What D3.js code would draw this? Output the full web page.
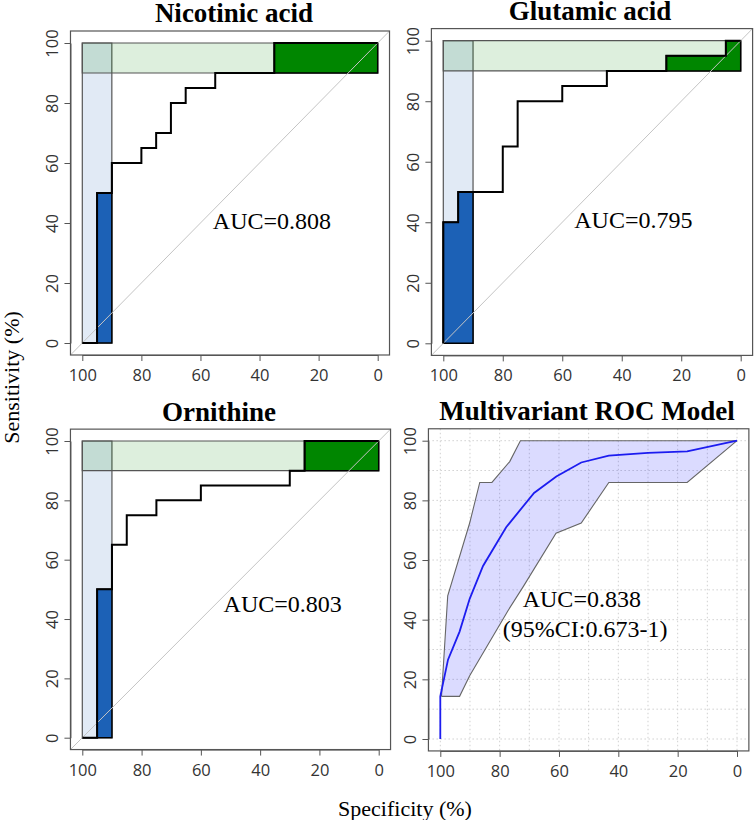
<!DOCTYPE html>
<html>
<head>
<meta charset="utf-8">
<script src="https://cdn.jsdelivr.net/npm/d3@7"></script>
<style>
  html, body { margin: 0; padding: 0; background: #fff; }
  svg { display: block; }
</style>
</head>
<body>
<svg id="chart" width="754" height="820"></svg>
<script>
// ---------------- data ----------------
const specTicks = [100, 80, 60, 40, 20, 0];
const sensTicks = [0, 20, 40, 60, 80, 100];
const gridTicks = [0, 10, 20, 30, 40, 50, 60, 70, 80, 90, 100];

const titles = ["Nicotinic acid", "Glutamic acid", "Ornithine", "Multivariant ROC Model"];
const aucLabels = ["AUC=0.808", "AUC=0.795", "AUC=0.803", "AUC=0.838"];
const ciLabel = "(95%CI:0.673-1)";

// ROC coordinates (specificity %, sensitivity %)
const nicotinicSpec = [100, 95, 95, 90, 90, 80, 80, 75, 75, 70, 70, 65, 65, 55, 55, 35, 35, 0];
const nicotinicSens = [0, 0, 50, 50, 60, 60, 65, 65, 70, 70, 80, 80, 85, 85, 90, 90, 100, 100];

const glutamicSpec = [100, 100, 95, 95, 80, 80, 75, 75, 60, 60, 45, 45, 25, 25, 5, 5, 0];
const glutamicSens = [0, 40, 40, 50, 50, 65, 65, 80, 80, 85, 85, 90, 90, 95, 95, 100, 100];

const ornithineSpec = [100, 95, 95, 90, 90, 85, 85, 75, 75, 60, 60, 30, 30, 25, 25, 0];
const ornithineSens = [0, 0, 50, 50, 65, 65, 75, 75, 80, 80, 85, 85, 90, 90, 100, 100];

// partial AUC ranges
const spRange = [100, 90];   // specificity focus
const seRange = [90, 100];   // sensitivity focus

// multivariate model curve and its 95% CI band
const multiSpec = [100, 100, 97.4, 93.5, 90.1, 85.6, 77.8, 68.4, 60.9, 52.5, 43.2, 30, 16.8, 0];
const multiSens = [0, 14.3, 26.6, 36, 47, 58, 71, 82.5, 88, 92.7, 95, 95.9, 96.4, 100];

const ciUpperSpec = [99.6, 97.5, 90.1, 86.7, 82.6, 76.6, 73, 0];
const ciUpperSens = [14.3, 48, 72.4, 86, 86, 93, 100, 100];
const ciLowerSpec = [99.6, 93.5, 90.1, 84.5, 77.2, 72.1, 61, 52.5, 43.2, 16.8, 0];
const ciLowerSens = [14.3, 14.3, 21.2, 30.7, 43, 51, 69, 72.4, 86, 86, 100];

// ---------------- layout ----------------
const layout = [
  { xr: [82.3, 377.7], yr: [343, 43],     titleX: 234, titleY: 21.5, aucAt: [35.8, 38] },
  { xr: [443.3, 740.7], yr: [343.3, 40.7], titleX: 590, titleY: 20,   aucAt: [36.1, 38.1] },
  { xr: [82.3, 378.7], yr: [737.7, 441],  titleX: 219, titleY: 420.7, aucAt: [32.4, 42.5] },
  { xr: [440.3, 737], yr: [739, 440.7],   titleX: 587, titleY: 420,  aucAt: [52.3, 44.3], ciAt: [51.2, 34.3] }
];

const SERIF = "'Liberation Serif', 'Times New Roman', serif";
const SANS = "'Open Sans', 'Noto Sans', sans-serif";

const svg = d3.select("#chart");

function makeScales(cfg) {
  const x = d3.scaleLinear().domain([100, 0]).range(cfg.xr);
  const y = d3.scaleLinear().domain([0, 100]).range(cfg.yr);
  const dx = (cfg.xr[1] - cfg.xr[0]) * 0.04;
  const dy = (cfg.yr[0] - cfg.yr[1]) * 0.04;
  const box = { l: cfg.xr[0] - dx, r: cfg.xr[1] + dx, t: cfg.yr[1] - dy, b: cfg.yr[0] + dy };
  return { x, y, box };
}

function drawFrame(g, s, cfg, i) {
  const { x, y, box } = s;
  const xa = g.append("g").attr("transform", `translate(0,${box.b})`)
    .call(d3.axisBottom(x).tickValues(specTicks).tickSize(6).tickSizeOuter(0).tickFormat(d3.format("d")));
  xa.selectAll("text").attr("y", 26).attr("dy", null)
    .style("font-family", SANS).style("font-size", "16.5px").attr("fill", "#333");
  const ya = g.append("g").attr("transform", `translate(${box.l},0)`)
    .call(d3.axisLeft(y).tickValues(sensTicks).tickSize(6).tickSizeOuter(0).tickFormat(d3.format("d")));
  ya.selectAll("text").attr("x", null).attr("dy", null).attr("y", -12.5)
    .attr("transform", "rotate(-90)").attr("text-anchor", "middle")
    .style("font-family", SANS).style("font-size", "16.5px").attr("fill", "#333");
  g.selectAll(".domain, .tick line").attr("stroke", "#555");
  g.append("rect").attr("x", box.l).attr("y", box.t)
    .attr("width", box.r - box.l).attr("height", box.b - box.t)
    .attr("fill", "none").attr("stroke", "#555").attr("stroke-width", 1.2);
  g.append("text").attr("x", cfg.titleX).attr("y", cfg.titleY)
    .attr("text-anchor", "middle").style("font-family", SERIF)
    .style("font-weight", "bold").style("font-size", "27px").attr("fill", "#000")
    .text(titles[i]);
}

function clipSp(spec, sens, lo) {
  const pts = [];
  for (let k = 0; k < spec.length; k++) {
    if (spec[k] >= lo) pts.push([spec[k], sens[k]]);
    if (k + 1 < spec.length && spec[k] > lo && spec[k + 1] < lo) {
      const t = (spec[k] - lo) / (spec[k] - spec[k + 1]);
      pts.push([lo, sens[k] + t * (sens[k + 1] - sens[k])]);
    }
  }
  pts.push([lo, 0]);
  return pts;
}
function clipSe(spec, sens, lo) {
  const pts = [];
  for (let k = 0; k < spec.length; k++) {
    if (sens[k] >= lo) pts.push([spec[k], sens[k]]);
    else if (k + 1 < spec.length && sens[k + 1] > lo) {
      const t = (lo - sens[k]) / (sens[k + 1] - sens[k]);
      pts.push([spec[k] + t * (spec[k + 1] - spec[k]), lo]);
    }
  }
  pts.push([0, lo]);
  return pts;
}

function drawRoc(i, spec, sens) {
  const cfg = layout[i];
  const s = makeScales(cfg);
  const { x, y } = s;
  const g = svg.append("g");
  const line = d3.line().x(d => x(d[0])).y(d => y(d[1]));
  const poly = pts => line(pts) + "Z";

  g.append("path").attr("d", poly([[spRange[0], 0], [spRange[0], 100], [spRange[1], 100], [spRange[1], 0]]))
    .attr("fill", "#1c61b6").attr("fill-opacity", 0.135).attr("stroke", "#555").attr("stroke-width", 1.2);
  g.append("path").attr("d", poly([[100, seRange[0]], [100, seRange[1]], [0, seRange[1]], [0, seRange[0]]]))
    .attr("fill", "#008600").attr("fill-opacity", 0.135).attr("stroke", "#555").attr("stroke-width", 1.2);

  g.append("path").attr("d", poly(clipSp(spec, sens, spRange[1])))
    .attr("fill", "#1c61b6").attr("stroke", "#000").attr("stroke-width", 1.5);
  g.append("path").attr("d", poly(clipSe(spec, sens, seRange[0])))
    .attr("fill", "#008600").attr("stroke", "#000").attr("stroke-width", 1.5);

  g.append("path").attr("d", line([[104, -4], [-4, 104]]))
    .attr("stroke", "#c4c4c4").attr("stroke-width", 1).attr("fill", "none");

  g.append("path").attr("d", line(spec.map((d, k) => [d, sens[k]])))
    .attr("fill", "none").attr("stroke", "#000").attr("stroke-width", 2);

  drawFrame(g, s, cfg, i);

  g.append("text").attr("x", x(cfg.aucAt[0])).attr("y", y(cfg.aucAt[1]))
    .attr("text-anchor", "middle").style("font-family", SERIF).style("font-size", "24px")
    .attr("fill", "#000").text(aucLabels[i]);
}

drawRoc(0, nicotinicSpec, nicotinicSens);
drawRoc(1, glutamicSpec, glutamicSens);
drawRoc(2, ornithineSpec, ornithineSens);

// ---------------- multivariate panel ----------------
(function () {
  const i = 3;
  const cfg = layout[i];
  const s = makeScales(cfg);
  const { x, y, box } = s;
  const g = svg.append("g");
  const line = d3.line().x(d => x(d[0])).y(d => y(d[1]));

  g.selectAll(".vg").data(gridTicks).join("line")
    .attr("x1", d => x(d)).attr("x2", d => x(d)).attr("y1", box.t).attr("y2", box.b)
    .attr("stroke", "#d0d0d0").attr("stroke-dasharray", "1.5,2.5").attr("stroke-width", 1);
  g.selectAll(".hg").data(gridTicks).join("line")
    .attr("y1", d => y(d)).attr("y2", d => y(d)).attr("x1", box.l).attr("x2", box.r)
    .attr("stroke", "#d0d0d0").attr("stroke-dasharray", "1.5,2.5").attr("stroke-width", 1);

  const upper = ciUpperSpec.map((d, k) => [d, ciUpperSens[k]]);
  const lower = ciLowerSpec.map((d, k) => [d, ciLowerSens[k]]);
  const band = upper.concat(lower.slice().reverse());
  g.append("path").attr("d", line(band) + "Z")
    .attr("fill", "#0000ff").attr("fill-opacity", 0.14).attr("stroke", "none");
  g.append("path").attr("d", line(upper)).attr("fill", "none").attr("stroke", "#666").attr("stroke-width", 1.1);
  g.append("path").attr("d", line(lower)).attr("fill", "none").attr("stroke", "#666").attr("stroke-width", 1.1);

  g.append("path").attr("d", line(multiSpec.map((d, k) => [d, multiSens[k]])))
    .attr("fill", "none").attr("stroke", "#1c1cf0").attr("stroke-width", 1.8);

  drawFrame(g, s, cfg, i);

  g.append("text").attr("x", x(cfg.aucAt[0])).attr("y", y(cfg.aucAt[1]))
    .attr("text-anchor", "middle").style("font-family", SERIF).style("font-size", "24px")
    .attr("fill", "#000").text(aucLabels[i]);
  g.append("text").attr("x", x(cfg.ciAt[0])).attr("y", y(cfg.ciAt[1]))
    .attr("text-anchor", "middle").style("font-family", SERIF).style("font-size", "24px")
    .attr("fill", "#000").text(ciLabel);
})();

// ---------------- axis titles ----------------
svg.append("text").attr("transform", "translate(19,377.5) rotate(-90)")
  .attr("text-anchor", "middle").style("font-family", SERIF).style("font-size", "22px")
  .attr("fill", "#000").text("Sensitivity (%)");
svg.append("text").attr("x", 405).attr("y", 816)
  .attr("text-anchor", "middle").style("font-family", SERIF).style("font-size", "22px")
  .attr("fill", "#000").text("Specificity (%)");
</script>
</body>
</html>
